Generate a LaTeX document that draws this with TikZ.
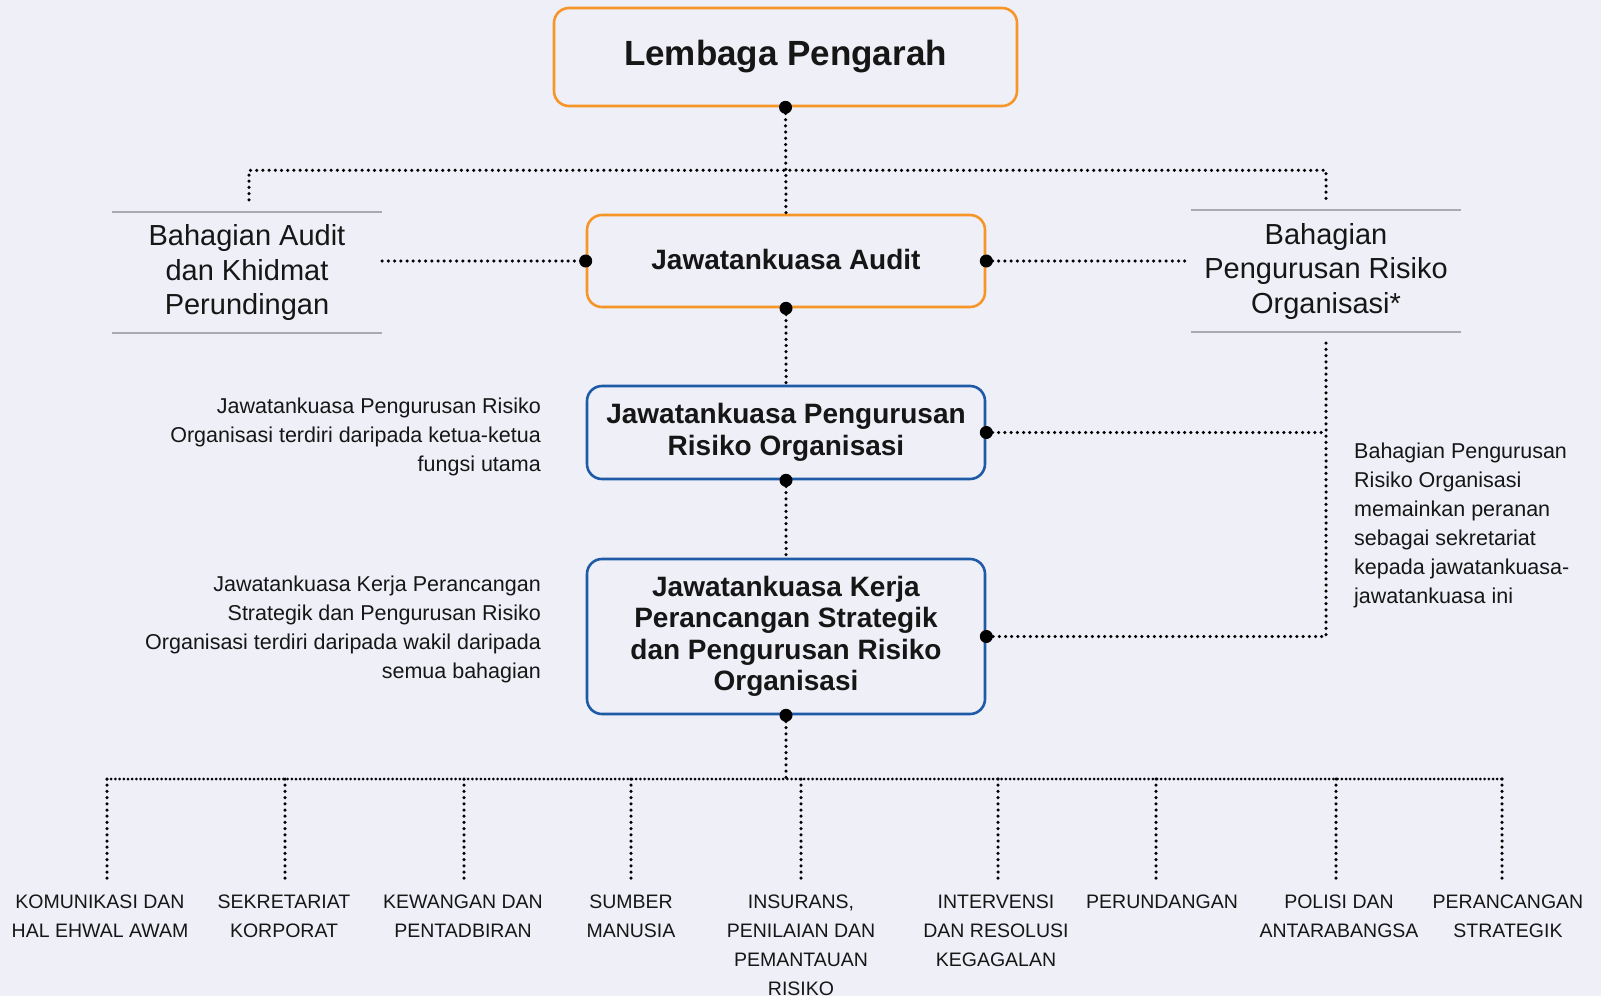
\documentclass[tikz,border=0pt]{standalone}
\usepackage{fontspec}
\setmainfont{Liberation Sans}
\usetikzlibrary{calc}
\definecolor{bg}{RGB}{238,239,247}
\definecolor{orng}{RGB}{247,150,40}
\definecolor{blu}{RGB}{30,90,165}
\definecolor{sepc}{RGB}{170,170,176}
\definecolor{txt}{RGB}{22,22,22}
\tikzset{
 orgbox/.style={draw=orng, line width=2.6pt, rounded corners=15pt, inner sep=0pt, align=center, text=txt, font=\bfseries\fontsize{28}{31.5}\selectfont},
 bluebox/.style={orgbox, draw=blu},
 sidebox/.style={inner sep=0pt, align=center, text=txt, font=\fontsize{29}{34.5}\selectfont},
 dotline/.style={line width=3.5pt, line cap=round, dash pattern=on 0pt off 6.2pt},
 finedot/.style={line width=3pt, line cap=round, dash pattern=on 0pt off 4.2pt},
 note/.style={inner sep=0pt, text=txt, font=\fontsize{21.5}{29}\selectfont},
 unitlabel/.style={inner sep=0pt, anchor=north, align=center, text=txt, font=\fontsize{19.5}{29}\selectfont},
 sepline/.style={draw=sepc, line width=2pt},
}
\begin{document}
\begin{tikzpicture}[x=1pt,y=-1pt]
\useasboundingbox (0,0) rectangle (1601,996);
\fill[bg] (0,0) rectangle (1601,996);

% main boxes
\node[orgbox, minimum width=463pt, minimum height=98pt, font=\bfseries\fontsize{35}{40}\selectfont] (LP) at (785.5,57) {\raisebox{-3pt}{Lembaga Pengarah}};
\node[orgbox, minimum width=398pt, minimum height=92pt] (JA) at (786,261) {\raisebox{3pt}{Jawatankuasa Audit}};
\node[bluebox, minimum width=398pt, minimum height=93pt] (JPRO) at (786,432.5) {Jawatankuasa Pengurusan\\Risiko Organisasi};
\node[bluebox, minimum width=398pt, minimum height=155pt] (JK) at (786,636.5) {Jawatankuasa Kerja\\Perancangan Strategik\\dan Pengurusan Risiko\\Organisasi};

% side boxes
\node[sidebox, minimum width=270pt, minimum height=121pt] (BA) at (247,272.5) {Bahagian Audit\\dan Khidmat\\Perundingan};
\node[sidebox, minimum width=270pt, minimum height=122pt] (BPRO) at (1326,271) {Bahagian\\Pengurusan Risiko\\Organisasi*};
\draw[sepline] (BA.north west) -- (BA.north east);
\draw[sepline] (BA.south west) -- (BA.south east);
\draw[sepline] (BPRO.north west) -- (BPRO.north east);
\draw[sepline] (BPRO.south west) -- (BPRO.south east);

% notes
\node[note, anchor=north east, align=right] (n1) at (541,398) {Jawatankuasa Pengurusan Risiko\\Organisasi terdiri daripada ketua-ketua\\fungsi utama};
\node[note, anchor=north east, align=right] (n2) at (541,576) {Jawatankuasa Kerja Perancangan\\Strategik dan Pengurusan Risiko\\Organisasi terdiri daripada wakil daripada\\semua bahagian};
\node[note, anchor=north west, align=left] (n3) at (1354,443) {Bahagian Pengurusan\\Risiko Organisasi\\memainkan peranan\\sebagai sekretariat\\kepada jawatankuasa-\\jawatankuasa ini};

% connectors
\draw[dotline] ($(BA.north)+(2,-12)$) |- ($(LP.south)+(0,63)$) -| ($(BPRO.north)+(0,-10)$);
\draw[dotline] (LP.south) -- (JA.north);
\draw[dotline] (BA.east |- JA.west) -- (JA.west);
\draw[dotline] (JA.east) -- (BPRO.west |- JA.east);
\draw[dotline] (JA.south) -- (JPRO.north);
\draw[dotline] (JPRO.south) -- (JK.north);
\draw[dotline] (JPRO.east) -- (BPRO.south |- JPRO.east);
\draw[dotline] ($(BPRO.south)+(0,11)$) -- (BPRO.south |- JK.east) -- (JK.east);
\coordinate (bar) at (786,779);
\draw[dotline] (JK.south) -- (bar);

% units
\foreach \i/\vx/\tx/\t in {
 1/107/100/{KOMUNIKASI DAN\\HAL EHWAL AWAM},
 2/285/284/{SEKRETARIAT\\KORPORAT},
 3/464/463/{KEWANGAN DAN\\PENTADBIRAN},
 4/631/631/{SUMBER\\MANUSIA},
 5/801/801/{INSURANS,\\PENILAIAN DAN\\PEMANTAUAN\\RISIKO},
 6/998/996/{INTERVENSI\\DAN RESOLUSI\\KEGAGALAN},
 7/1156/1162/{PERUNDANGAN},
 8/1336/1339/{POLISI DAN\\ANTARABANGSA},
 9/1502/1508/{PERANCANGAN\\STRATEGIK}} {
 \node[unitlabel] (u\i) at (\tx,895) {\t};
 \coordinate (v\i) at (\vx,883);
 \draw[dotline] (v\i |- bar) -- (v\i);
}
\draw[finedot] (v1 |- bar) -- ($(v9 |- bar)+(2,0)$);

% junction dots
\foreach \a in {LP.south, JA.west, JA.east, JA.south, JPRO.east, JPRO.south, JK.east, JK.south}
 \fill[black] (\a) circle[radius=6.5pt];
\end{tikzpicture}
\end{document}
